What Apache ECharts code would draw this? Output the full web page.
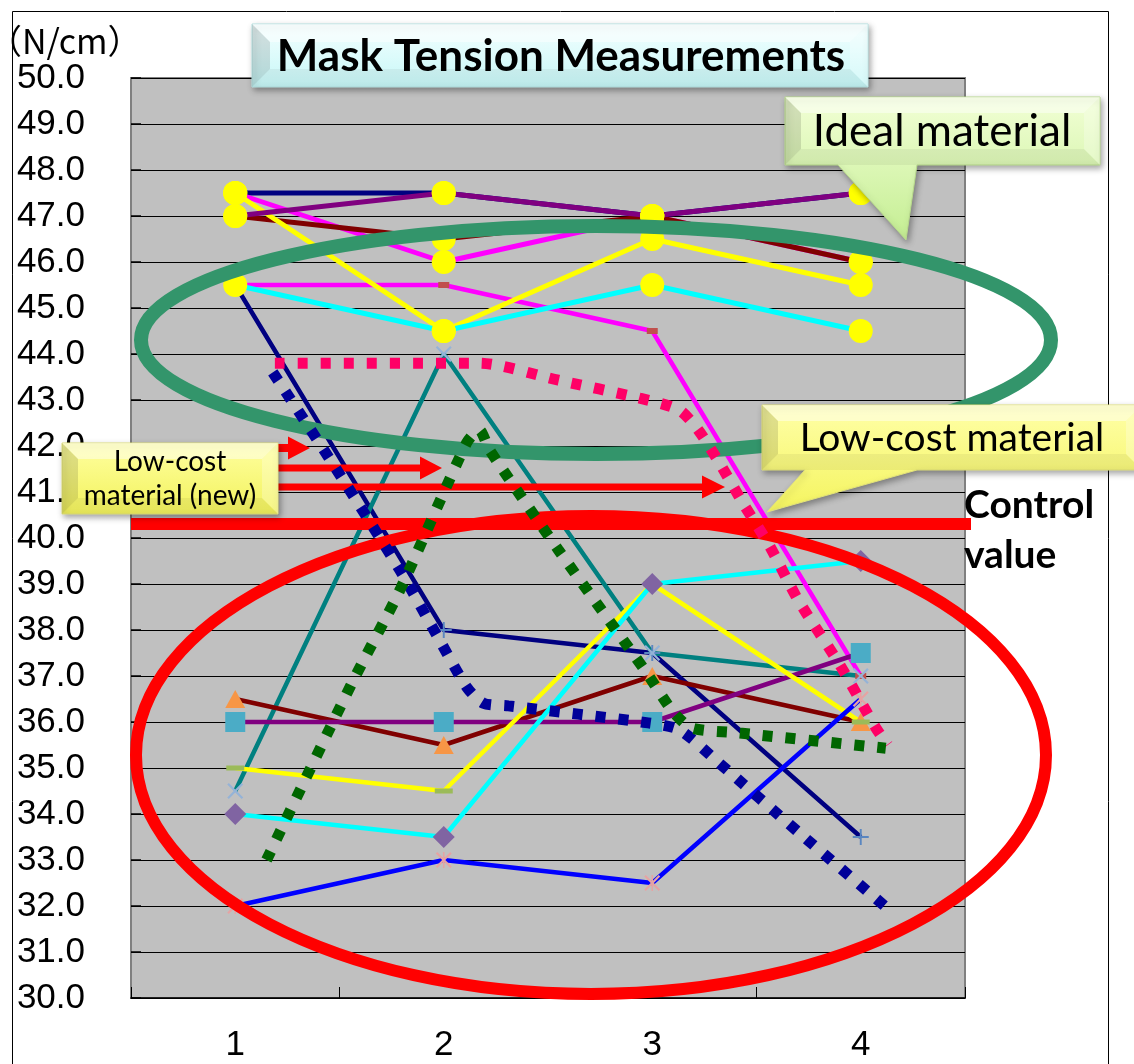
<!DOCTYPE html>
<html>
<head>
<meta charset="utf-8">
<script src="https://cdn.jsdelivr.net/npm/echarts@6/dist/echarts.min.js"></script>
<style>
  html, body { margin: 0; padding: 0; background: #ffffff; }
  #chart { width: 1134px; height: 1064px; }
</style>
</head>
<body>
<div id="chart"></div>
<script>
// Measurement points (N/cm)
const categories = ['1', '2', '3', '4'];

// Upper cluster: ideal material
const navyUpper    = [47.5, 47.5, 47.0, 47.5];
const magentaUpper = [47.5, 46.0, 47.0, 46.0];
const darkRedUpper = [47.0, 46.5, 47.0, 46.0];
const yellowUpper  = [47.5, 44.5, 46.5, 45.5];
const cyanUpper    = [45.5, 44.5, 45.5, 44.5];
const purpleUpper  = [47.0, 47.5, 47.0, 47.5];

// Lower cluster: low-cost material
const navyLower    = [45.5, 38.0, 37.5, 33.5];
const magentaLower = [45.5, 45.5, 44.5, 37.0];
const tealLower    = [34.5, 44.0, 37.5, 37.0];
const darkRedLower = [36.5, 35.5, 37.0, 36.0];
const purpleLower  = [36.0, 36.0, 36.0, 37.5];
const yellowLower  = [35.0, 34.5, 39.0, 36.0];
const cyanLower    = [34.0, 33.5, 39.0, 39.5];
const blueLower    = [32.0, 33.0, 32.5, 36.5];

// Dotted trend traces: [position on the sample scale, N/cm]
const pinkTrend = [[1.19, 43.8], [2.17, 43.8], [2.55, 43.43], [2.94, 43.04], [3.13, 42.78], [3.22, 42.35],
  [3.32, 41.65], [3.44, 40.72], [3.56, 39.85], [3.70, 38.65], [3.90, 37.24], [4.07, 35.89], [4.13, 35.5]];
const navyTrend = [[1.18, 43.6], [1.45, 41.74], [1.79, 39.3], [1.98, 37.78], [2.11, 36.76], [2.19, 36.41],
  [2.31, 36.35], [2.98, 35.98], [3.13, 35.83], [3.32, 35.11], [3.70, 33.61], [4.12, 31.98]];
const greenTrend = [[1.15, 33.0], [1.56, 36.85], [1.79, 38.87], [2.11, 42.07], [2.17, 42.35], [2.22, 41.91],
  [2.55, 39.74], [2.97, 37.09], [3.10, 36.22], [3.19, 35.87], [3.42, 35.76], [4.12, 35.43]];

const yMin = 30, yMax = 50, yStep = 1;

// Marker shapes
const X_MARK = 'path://M0,1 L1,0 L5,4 L9,0 L10,1 L6,5 L10,9 L9,10 L5,6 L1,10 L0,9 L4,5 Z';
const PLUS_MARK = 'path://M4.4,0 H5.6 V4.4 H10 V5.6 H5.6 V10 H4.4 V5.6 H0 V4.4 H4.4 Z';
const STAR_MARK = 'path://M0,1 L1,0 L5,4 L9,0 L10,1 L6,5 L10,9 L9,10 L5,6 L1,10 L0,9 L4,5 Z M4.5,0 H5.5 V10 H4.5 Z';

function solid(data, color, width, symbol, size, markColor) {
  return {
    type: 'line', data: data, xAxisIndex: 0, yAxisIndex: 0, z: 2,
    lineStyle: { color: color, width: width },
    symbol: symbol, symbolSize: size, showSymbol: true,
    itemStyle: { color: markColor, borderWidth: 0 },
    emphasis: { disabled: true }
  };
}
function upper(data, color) {
  return solid(data, color, 5, 'circle', 24, '#FFFF00');
}
function dotted(data, color) {
  return {
    type: 'line', data: data, xAxisIndex: 1, yAxisIndex: 0, z: 4,
    symbol: 'none', smooth: 0.25,
    lineStyle: { color: color, width: 11, type: [10, 13], cap: 'butt' },
    emphasis: { disabled: true }
  };
}

const series = [
  solid(navyLower, '#000080', 4.5, PLUS_MARK, 16, '#5A86C0'),
  solid(magentaLower, '#FF00FF', 4.5, 'rect', [11, 6], '#C0504D'),
  solid(tealLower, '#008080', 4.5, X_MARK, 16, '#95B3D7'),
  solid(darkRedLower, '#800000', 4.5, 'triangle', [20, 18], '#F79646'),
  solid(purpleLower, '#800080', 4.5, 'rect', 20, '#4BACC6'),
  solid(yellowLower, '#FFFF00', 4.5, 'rect', [18, 5], '#9BBB59'),
  solid(cyanLower, '#00FFFF', 4.5, 'diamond', 22, '#8064A2'),
  solid(blueLower, '#0000FF', 4.5, STAR_MARK, 16, '#E6A3A3'),
  upper(navyUpper, '#000080'),
  upper(magentaUpper, '#FF00FF'),
  upper(darkRedUpper, '#800000'),
  upper(yellowUpper, '#FFFF00'),
  upper(cyanUpper, '#00FFFF'),
  upper(purpleUpper, '#800080'),
  dotted(pinkTrend, '#FF0066'),
  dotted(navyTrend, '#000099'),
  dotted(greenTrend, '#006600')
];

// Annotation helpers
function vgrad(c1, c2) {
  return new echarts.graphic.LinearGradient(0, 0, 0, 1, [{ offset: 0, color: c1 }, { offset: 1, color: c2 }]);
}
const shadow = { shadowBlur: 6, shadowOffsetX: 2, shadowOffsetY: 3, shadowColor: 'rgba(0,0,0,0.35)' };

function bevel(x, y, w, h, b, z) {
  const P = (pts, fill) => ({ type: 'polygon', z: z, silent: true, shape: { points: pts }, style: { fill: fill } });
  return [
    P([[x, y], [x + w, y], [x + w - b, y + b], [x + b, y + b]], 'rgba(255,255,255,0.45)'),
    P([[x, y + h], [x + w, y + h], [x + w - b, y + h - b], [x + b, y + h - b]], 'rgba(0,0,0,0.05)'),
    P([[x, y], [x + b, y + b], [x + b, y + h - b], [x, y + h]], 'rgba(0,0,0,0.12)'),
    P([[x + w, y], [x + w - b, y + b], [x + w - b, y + h - b], [x + w, y + h]], 'rgba(255,255,255,0.25)')
  ];
}
function arrow(y, x0, xHead, xTip, shaftHalf, headHalf) {
  return {
    type: 'polygon', z: 3, silent: true,
    shape: { points: [[x0, y - shaftHalf], [xHead, y - shaftHalf], [xHead, y - headHalf], [xTip, y],
      [xHead, y + headHalf], [xHead, y + shaftHalf], [x0, y + shaftHalf]] },
    style: { fill: '#FF0000' }
  };
}
function label(text, x, y, font, align, lineHeight) {
  return {
    type: 'text', x: x, y: y, z: 6, silent: true,
    style: { text: text, font: font, fill: '#000000', align: align || 'center', verticalAlign: 'middle',
      textAlign: align || 'center', textVerticalAlign: 'middle', lineHeight: lineHeight || 34 }
  };
}

const graphics = [
  // outer frame
  { type: 'rect', z: 0, silent: true, shape: { x: 12.5, y: 11.5, width: 1096, height: 1100 },
    style: { fill: 'none', stroke: '#000000', lineWidth: 1 } },
  // control value line
  { type: 'line', z: 3, silent: true, shape: { x1: 131, y1: 524, x2: 971, y2: 524 },
    style: { stroke: '#FF0000', lineWidth: 12 } },
  // ring around the low-cost group
  { type: 'ellipse', z: 3, silent: true, shape: { cx: 591, cy: 755, rx: 455, ry: 239 },
    style: { fill: 'none', stroke: '#FF0000', lineWidth: 12 } },
  // ring around the ideal group
  { type: 'ellipse', z: 3, silent: true, shape: { cx: 596, cy: 340, rx: 455, ry: 114 },
    style: { fill: 'none', stroke: '#33956B', lineWidth: 14 } },
  arrow(448, 278, 288, 310, 4, 11.5),
  arrow(468, 278, 420, 442, 3.5, 11.5),
  arrow(487, 278, 702, 725, 3.5, 11.5),

  // title box
  { type: 'rect', z: 5, silent: true, shape: { x: 252, y: 24, width: 616, height: 63 },
    style: Object.assign({ fill: vgrad('#F4FFFF', '#C6F7F7'), stroke: '#B5E2E2', lineWidth: 1 }, shadow) },
  ...bevel(252, 24, 616, 63, 18, 5),
  label('Mask Tension Measurements', 561, 57, 'bold 44px Lato'),

  // ideal material callout
  { type: 'polygon', z: 5, silent: true,
    shape: { points: [[785, 97], [1100, 97], [1100, 165], [917, 165], [906, 240], [838, 165], [785, 165]] },
    style: Object.assign({ fill: vgrad('#F2FFD6', '#C4EE92'), stroke: '#B8DA8C', lineWidth: 1 }, shadow) },
  ...bevel(785, 97, 315, 68, 16, 5),
  label('Ideal material', 942, 132, '44px Lato'),

  // low-cost material callout
  { type: 'polygon', z: 5, silent: true,
    shape: { points: [[762, 405], [1140, 405], [1140, 470], [917, 470], [767, 512], [805, 470], [762, 470]] },
    style: Object.assign({ fill: vgrad('#FFFFA8', '#F4F45E'), stroke: '#E2E27A', lineWidth: 1 }, shadow) },
  ...bevel(762, 405, 380, 65, 16, 5),
  label('Low-cost material', 952, 438, '39px Lato'),

  // new low-cost material box
  { type: 'rect', z: 5, silent: true, shape: { x: 62, y: 443, width: 216, height: 71 },
    style: Object.assign({ fill: vgrad('#FFFFA0', '#F2F25C'), stroke: '#E0E07A', lineWidth: 1 }, shadow) },
  ...bevel(62, 443, 216, 71, 16, 5),
  label('Low-cost\nmaterial (new)', 170, 479, '28px Lato', 'center', 34),

  // side and unit labels
  label('Control\nvalue', 964, 530, 'bold 39px Lato', 'left', 50),
  { type: 'text', x: -12, y: 41, z: 6, silent: true,
    style: { text: '（N/cm）', font: '34px "Noto Sans CJK JP"', fill: '#000000',
      align: 'left', verticalAlign: 'middle', textAlign: 'left', textVerticalAlign: 'middle' } }
];

const chart = echarts.init(document.getElementById('chart'), null, { renderer: 'canvas' });
chart.setOption({
  animation: false,
  backgroundColor: '#FFFFFF',
  grid: {
    left: 131, top: 78, right: 169, bottom: 66,
    show: true, backgroundColor: '#C0C0C0', borderColor: '#808080', borderWidth: 2
  },
  xAxis: [
    {
      type: 'category', data: categories, boundaryGap: true,
      axisLine: { show: true, lineStyle: { color: '#000000', width: 1.5 } },
      axisTick: { show: true, inside: true, length: 11, alignWithLabel: false, lineStyle: { color: '#000000' } },
      axisLabel: { color: '#000000', fontSize: 35, fontFamily: 'Liberation Sans', margin: 30 },
      splitLine: { show: false }
    },
    { type: 'value', min: 0.5, max: 4.5, show: false }
  ],
  yAxis: {
    type: 'value', min: yMin, max: yMax, interval: yStep,
    axisLine: { show: false },
    axisTick: { show: true, inside: true, length: 10, lineStyle: { color: '#000000', width: 1.5 } },
    axisLabel: { color: '#000000', fontSize: 35, fontFamily: 'Liberation Sans', margin: 46,
      formatter: v => v.toFixed(1) },
    splitLine: { show: true, lineStyle: { color: '#000000', width: 1 } }
  },
  series: series,
  graphic: graphics
});
</script>
</body>
</html>
